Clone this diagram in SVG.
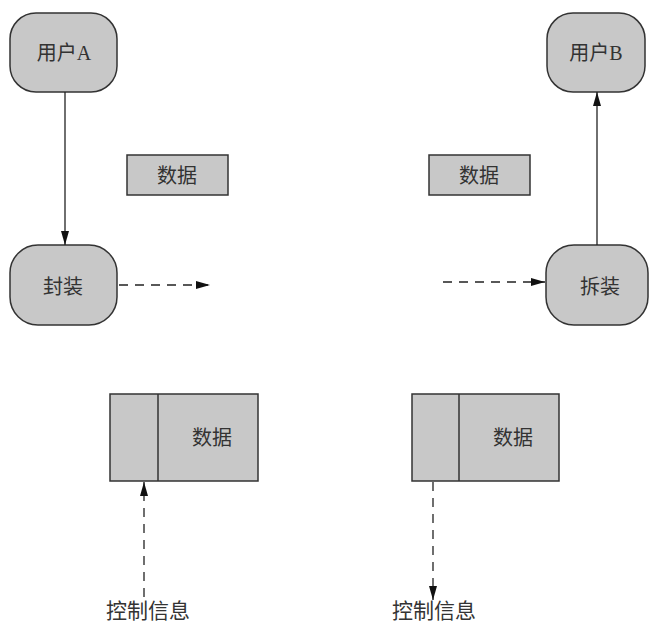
<svg xmlns="http://www.w3.org/2000/svg" width="649" height="625" viewBox="0 0 649 625">
<style>
.n{fill:#c8c8c8;stroke:#333;stroke-width:1.5}
.t{font-family:"Liberation Serif","Noto Sans CJK SC",serif;font-size:20px;fill:#333;text-anchor:middle;dominant-baseline:central}
.l{font-size:21px}
.c{stroke:#222;stroke-width:1.3;fill:none}
.d{stroke-dasharray:9,7}
</style>
<defs>
<marker id="a" viewBox="0 0 14 8" refX="14" refY="4" markerWidth="14" markerHeight="8" markerUnits="userSpaceOnUse" orient="auto">
<path d="M0,0 L14,4 L0,8 Z" fill="#111"/>
</marker>
</defs>
<rect width="649" height="625" fill="#fff"/>
<g id="userA"><rect class="n" x="10" y="13" width="107" height="79" rx="26"/><text class="t" x="64" y="53">用户A</text></g>
<g id="userB"><rect class="n" x="547" y="13" width="98" height="79" rx="26"/><text class="t" x="596" y="53">用户B</text></g>
<g id="fengzhuang"><rect class="n" x="10" y="245" width="107" height="80" rx="28"/><text class="t" x="63" y="287">封装</text></g>
<g id="chaizhuang"><rect class="n" x="546" y="245" width="102" height="80" rx="28"/><text class="t" x="600" y="287">拆装</text></g>
<g id="data1"><rect class="n" x="127" y="155" width="101" height="40"/><text class="t" x="177" y="176">数据</text></g>
<g id="data2"><rect class="n" x="429" y="155" width="101" height="40"/><text class="t" x="479" y="176">数据</text></g>
<g id="packet1"><rect class="n" x="110" y="394" width="148" height="87"/><line class="n" x1="158" y1="394" x2="158" y2="481"/><text class="t" x="212" y="438">数据</text></g>
<g id="packet2"><rect class="n" x="412" y="394" width="147" height="87"/><line class="n" x1="459" y1="394" x2="459" y2="481"/><text class="t" x="513" y="438">数据</text></g>
<g id="label1"><text class="t l" x="148" y="611">控制信息</text></g>
<g id="label2"><text class="t l" x="434" y="611">控制信息</text></g>
<g id="connectors">
<line class="c" x1="65" y1="92" x2="65" y2="245" marker-end="url(#a)"/>
<line class="c" x1="597" y1="245" x2="597" y2="92" marker-end="url(#a)"/>
<line class="c d" x1="119" y1="285" x2="210" y2="285" marker-end="url(#a)"/>
<line class="c d" x1="443" y1="282" x2="545" y2="282" marker-end="url(#a)"/>
<line class="c d" x1="144" y1="597" x2="144" y2="482" marker-end="url(#a)"/>
<line class="c d" x1="433" y1="482" x2="433" y2="600" marker-end="url(#a)"/>
</g>
</svg>
